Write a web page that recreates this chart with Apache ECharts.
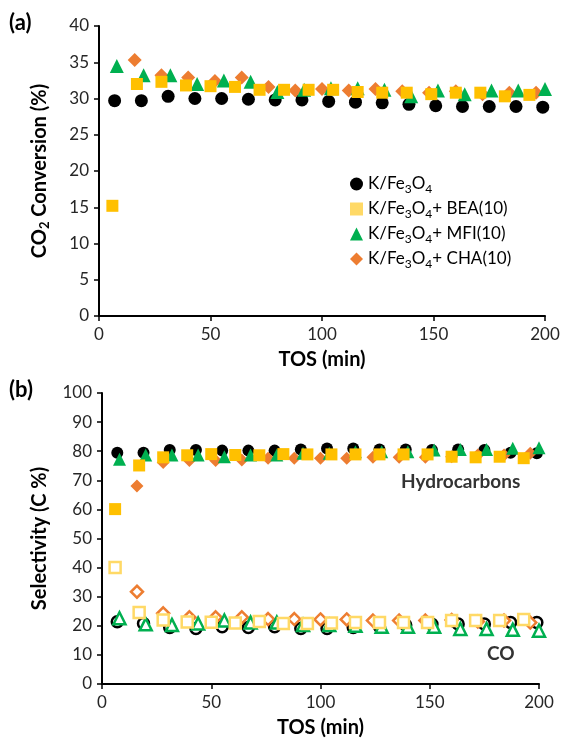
<!DOCTYPE html>
<html>
<head>
<meta charset="utf-8">
<script src="https://cdn.jsdelivr.net/npm/echarts@6/dist/echarts.min.js"></script>
<style>
  html, body { margin: 0; padding: 0; background: #fff; }
  #chart { width: 563px; height: 749px; }
</style>
</head>
<body>
<div id="chart"></div>
<script>
// Time on stream (min) for each catalyst series
const tosK   = [7, 19, 31, 43, 55, 67, 79, 91, 103, 115, 127, 139, 151, 163, 175, 187, 199];
const tosBEA = [6, 17, 28, 39, 50, 61, 72, 83, 94, 105, 116, 127, 138, 149, 160, 171, 182, 193];
const tosMFI = [8, 20, 32, 44, 56, 68, 80, 92, 104, 116, 128, 140, 152, 164, 176, 188, 200];
const tosCHA = [16, 28, 40, 52, 64, 76, 88, 100, 112, 124, 136, 148, 160, 172, 184, 196];

// (a) CO2 conversion (%)
const convK   = [29.7, 29.7, 30.3, 30.0, 30.0, 29.9, 29.8, 29.8, 29.6, 29.5, 29.4, 29.2, 29.0, 28.9, 28.9, 28.9, 28.8];
const convBEA = [15.2, 32.0, 32.3, 31.8, 31.7, 31.6, 31.2, 31.2, 31.2, 31.2, 30.9, 30.8, 30.8, 30.6, 30.8, 30.8, 30.3, 30.5];
const convMFI = [34.5, 33.2, 33.2, 32.0, 32.5, 32.3, 30.9, 31.2, 31.4, 31.4, 31.2, 30.3, 31.1, 30.6, 31.1, 31.1, 31.3];
const convCHA = [35.3, 33.2, 32.9, 32.4, 32.9, 31.6, 31.1, 31.3, 31.1, 31.3, 31.0, 30.8, 31.0, 30.6, 30.8, 30.8];

// (b) Hydrocarbon selectivity (C %)
const hcK   = [79.5, 79.5, 80.4, 80.4, 80.2, 80.2, 80.2, 80.6, 80.9, 80.9, 80.6, 80.6, 80.4, 80.6, 80.4, 79.5, 79.3];
const hcBEA = [60.1, 75.1, 77.9, 78.6, 79.0, 78.7, 78.6, 79.0, 78.9, 78.9, 78.9, 78.9, 78.9, 78.9, 78.1, 77.9, 78.1, 77.6];
const hcMFI = [77.2, 78.7, 78.7, 78.7, 78.1, 78.7, 78.7, 79.3, 79.3, 79.8, 79.8, 79.8, 80.4, 80.6, 80.6, 81.0, 81.2];
const hcCHA = [68.0, 76.1, 76.8, 76.8, 77.0, 77.6, 77.6, 77.6, 77.6, 77.9, 77.9, 77.9, 78.1, 78.7, 78.7, 79.3];

// (b) CO selectivity (C %)
const coK   = [21.4, 20.8, 19.4, 19.1, 19.7, 19.4, 19.7, 19.1, 19.1, 19.4, 19.7, 20.3, 20.5, 20.6, 20.6, 21.1, 21.1];
const coBEA = [40.0, 24.6, 22.0, 21.3, 21.2, 21.0, 21.5, 20.8, 20.8, 21.0, 21.1, 21.1, 21.1, 21.1, 21.8, 21.8, 21.8, 22.2];
const coMFI = [22.6, 20.5, 20.3, 20.8, 21.8, 21.1, 21.1, 20.3, 20.3, 20.0, 19.7, 19.7, 19.7, 18.9, 18.9, 18.6, 18.3];
const coCHA = [31.7, 24.3, 22.9, 22.9, 22.9, 22.3, 22.3, 22.2, 22.2, 21.8, 21.8, 21.8, 22.0, 21.5, 21.8, 21.1];

// Axis ticks
const xTicks = { min: 0, max: 200, interval: 50 };
const convTicks = { min: 0, max: 40, interval: 5 };
const selTicks = { min: 0, max: 100, interval: 10 };

const seriesNames = ['K/Fe3O4', 'K/Fe3O4+ BEA(10)', 'K/Fe3O4+ MFI(10)', 'K/Fe3O4+ CHA(10)'];
const legendLabels = {
  'K/Fe3O4': 'K/Fe{sub|3}O{sub|4}',
  'K/Fe3O4+ BEA(10)': 'K/Fe{sub|3}O{sub|4}+ BEA(10)',
  'K/Fe3O4+ MFI(10)': 'K/Fe{sub|3}O{sub|4}+ MFI(10)',
  'K/Fe3O4+ CHA(10)': 'K/Fe{sub|3}O{sub|4}+ CHA(10)'
};

const FONT = 'Lato, "Open Sans", sans-serif';
const C_K = '#000000', C_BEA = '#FFC000', C_BEA_OPEN = '#FFD966', C_MFI = '#00B050', C_CHA = '#ED7D31';

const zip = (xs, ys) => xs.map((x, i) => [x, ys[i]]);

function axisX(gridIndex) {
  return {
    type: 'value', gridIndex, ...xTicks,
    name: 'TOS (min)', nameLocation: 'middle', nameGap: 34,
    nameTextStyle: { fontFamily: FONT, fontSize: 20, fontWeight: 'bold', color: '#000' },
    axisLine: { onZero: false, lineStyle: { color: '#000', width: 2 } },
    axisTick: { show: true, inside: false, length: 5, lineStyle: { color: '#000', width: 1.5 } },
    axisLabel: { fontFamily: FONT, fontSize: 17, color: '#262626', margin: 10 },
    splitLine: { show: false }
  };
}

function axisY(gridIndex, ticks, name, gap) {
  return {
    type: 'value', gridIndex, ...ticks,
    name, nameLocation: 'middle', nameGap: gap,
    nameTextStyle: {
      fontFamily: FONT, fontSize: 20, fontWeight: 'bold', color: '#000',
      rich: { sub: { fontFamily: FONT, fontSize: 13, fontWeight: 'bold', color: '#000', padding: [10, 0, 0, 0] } }
    },
    axisLine: { show: true, onZero: false, lineStyle: { color: '#000', width: 2 } },
    axisTick: { show: true, inside: false, length: 5, lineStyle: { color: '#000', width: 1.5 } },
    axisLabel: { fontFamily: FONT, fontSize: 17, color: '#262626', margin: 10 },
    splitLine: { show: false }
  };
}

function filled(name, data, symbol, color, size, idx) {
  return {
    name, type: 'scatter', xAxisIndex: idx, yAxisIndex: idx,
    data, symbol, symbolSize: size,
    itemStyle: { color, opacity: 1 },
    emphasis: { disabled: true }
  };
}

function open(name, data, symbol, color, size) {
  return {
    name, type: 'scatter', xAxisIndex: 1, yAxisIndex: 1,
    data, symbol, symbolSize: size,
    itemStyle: { color: '#fff', borderColor: color, borderWidth: 2.5, opacity: 1 },
    emphasis: { disabled: true }
  };
}

const chart = echarts.init(document.getElementById('chart'), null, { renderer: 'canvas' });

chart.setOption({
  backgroundColor: '#fff',
  animation: false,
  grid: [
    { left: 99, top: 26, width: 446, height: 290 },
    { left: 102, top: 393, width: 437, height: 291 }
  ],
  xAxis: [axisX(0), axisX(1)],
  yAxis: [
    axisY(0, convTicks, 'CO{sub|2} Conversion (%)', 48),
    axisY(1, selTicks, 'Selectivity (C %)', 52)
  ],
  legend: {
    orient: 'vertical', left: 345, top: 168,
    itemWidth: 13, itemHeight: 13, itemGap: 3,
    selectedMode: false,
    data: [
      { name: seriesNames[0], icon: 'circle', itemStyle: { color: C_K } },
      { name: seriesNames[1], icon: 'rect', itemStyle: { color: C_BEA_OPEN } },
      { name: seriesNames[2], icon: 'triangle', itemStyle: { color: C_MFI } },
      { name: seriesNames[3], icon: 'diamond', itemStyle: { color: C_CHA } }
    ],
    formatter: n => legendLabels[n],
    textStyle: {
      fontFamily: FONT, fontSize: 17, color: '#000', lineHeight: 20,
      rich: { sub: { fontFamily: FONT, fontSize: 12, color: '#000', lineHeight: 12, padding: [10, 0, 0, 0] } }
    }
  },
  graphic: [
    { type: 'text', left: 9, top: 12, style: { text: '(a)', font: 'bold 22px ' + FONT, fill: '#000' } },
    { type: 'text', left: 9, top: 379, style: { text: '(b)', font: 'bold 22px ' + FONT, fill: '#000' } },
    { type: 'text', left: 401, top: 472, style: { text: 'Hydrocarbons', font: 'bold 19px ' + FONT, fill: '#333' } },
    { type: 'text', left: 487, top: 644, style: { text: 'CO', font: 'bold 19px ' + FONT, fill: '#333' } }
  ],
  series: [
    // (a) CO2 conversion
    filled(seriesNames[0], zip(tosK, convK), 'circle', C_K, 13, 0),
    filled(seriesNames[3], zip(tosCHA, convCHA), 'diamond', C_CHA, 14, 0),
    filled(seriesNames[2], zip(tosMFI, convMFI), 'triangle', C_MFI, 14, 0),
    filled(seriesNames[1], zip(tosBEA, convBEA), 'rect', C_BEA, 12, 0),
    // (b) hydrocarbon selectivity
    filled(seriesNames[0], zip(tosK, hcK), 'circle', C_K, 12, 1),
    filled(seriesNames[3], zip(tosCHA, hcCHA), 'diamond', C_CHA, 13, 1),
    filled(seriesNames[2], zip(tosMFI, hcMFI), 'triangle', C_MFI, 13, 1),
    filled(seriesNames[1], zip(tosBEA, hcBEA), 'rect', C_BEA, 12, 1),
    // (b) CO selectivity
    open(seriesNames[0], zip(tosK, coK), 'circle', C_K, 11),
    open(seriesNames[3], zip(tosCHA, coCHA), 'diamond', C_CHA, 12),
    open(seriesNames[2], zip(tosMFI, coMFI), 'triangle', C_MFI, 12),
    open(seriesNames[1], zip(tosBEA, coBEA), 'rect', C_BEA_OPEN, 11)
  ]
});
</script>
</body>
</html>
